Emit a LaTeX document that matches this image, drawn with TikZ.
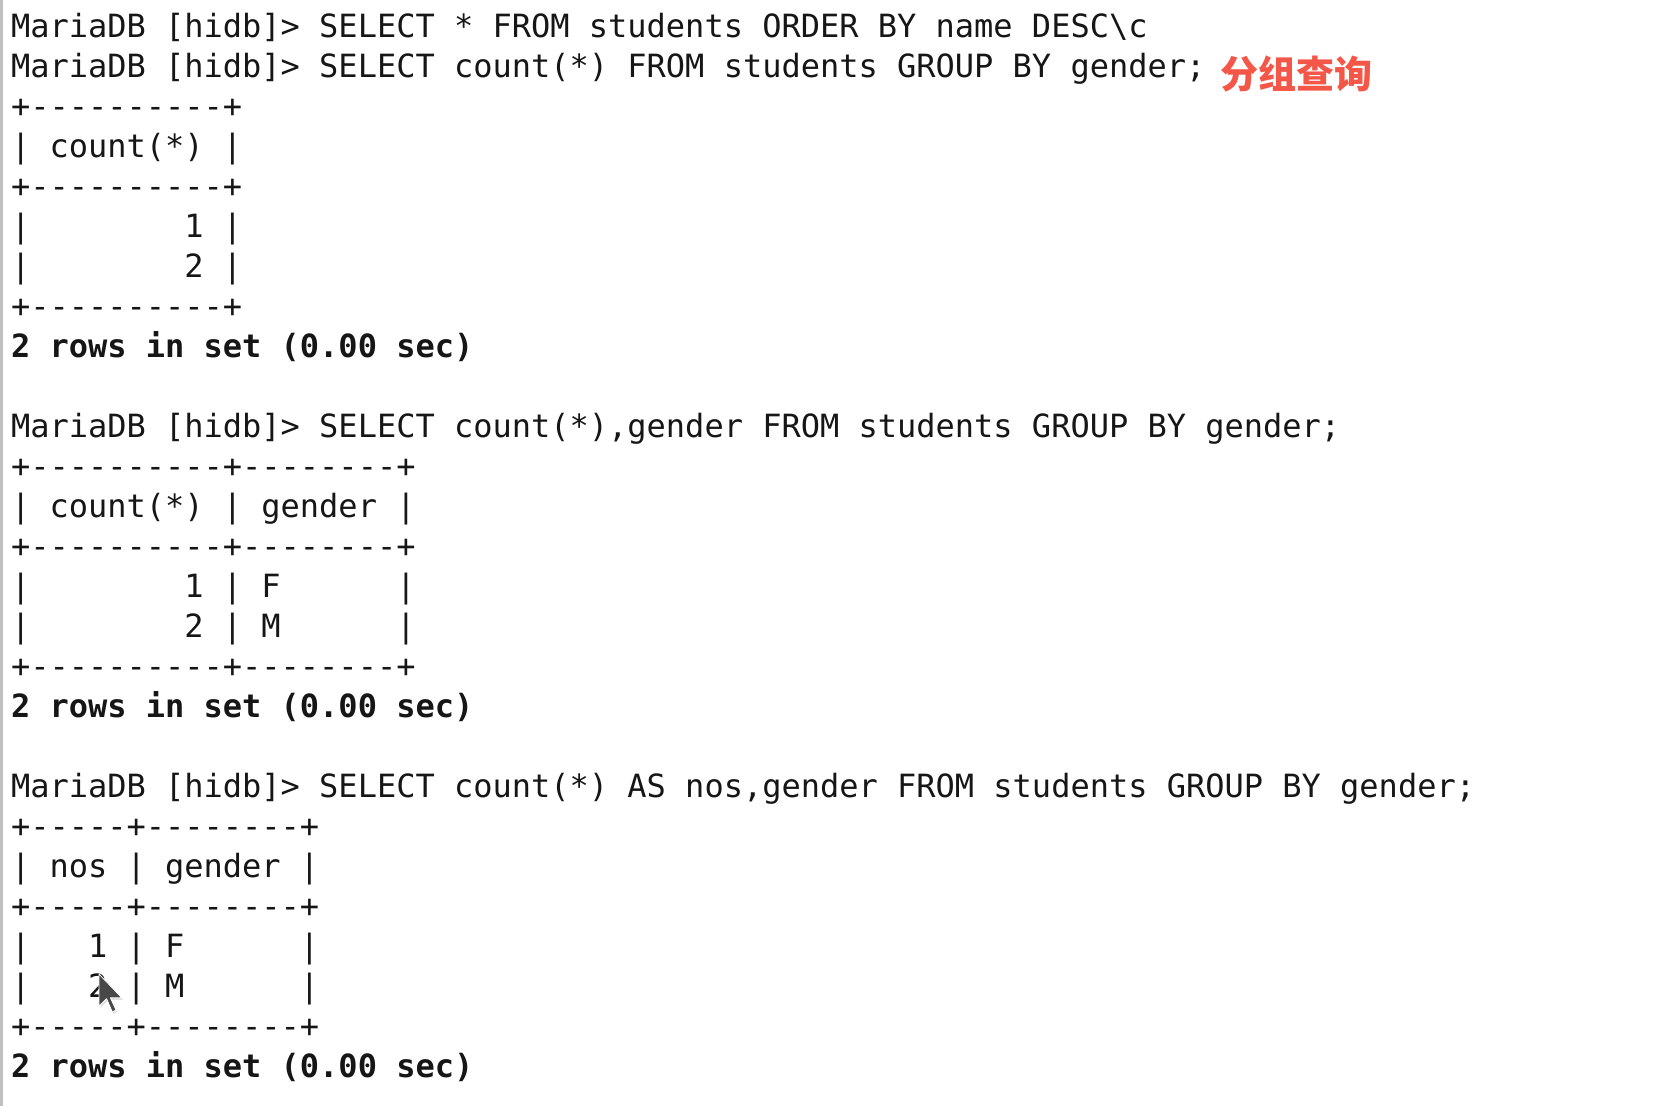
\documentclass[tikz,border=0pt]{standalone}
\usepackage{fontspec}
\setmonofont{DejaVu Sans Mono}
\newfontfamily\cjk{Noto Sans CJK SC}
\definecolor{termtext}{RGB}{22,22,22}
\definecolor{redlabel}{RGB}{244,86,72}
\definecolor{edgegray}{RGB}{192,192,192}
\definecolor{cursorgray}{RGB}{72,72,72}
\begin{document}
\begin{tikzpicture}[x=1pt,y=-1pt,
  termline/.style={anchor=base west, inner sep=0pt, outer sep=0pt,
    font=\ttfamily\fontsize{32}{40}\selectfont, text=termtext},
  boldline/.style={termline, font=\ttfamily\bfseries\fontsize{32}{40}\selectfont},
  note/.style={anchor=base west, inner sep=0pt, outer sep=0pt,
    font=\cjk\bfseries\fontsize{38}{44}\selectfont, text=redlabel}]
\useasboundingbox (0,0) rectangle (1654,1106);
\fill[white] (0,0) rectangle (1654,1106);
\fill[edgegray] (0,0) rectangle (3,1106);

\node[termline] (l0) at (11,37.3) {MariaDB [hidb]> SELECT * FROM students ORDER BY name DESC\textbackslash c};
\node[termline] (l1) at (11,77.3) {MariaDB [hidb]> SELECT count(*) FROM students GROUP BY gender;};
\node[note] (label) at (1220,88) {分组查询};
\node[termline] (l2) at (11,117.3) {+----------+};
\node[termline] (l3) at (11,157.3) {| count(*) |};
\node[termline] (l4) at (11,197.3) {+----------+};
\node[termline] (l5) at (11,237.3) {|\ \ \ \ \ \ \ \ 1 |};
\node[termline] (l6) at (11,277.3) {|\ \ \ \ \ \ \ \ 2 |};
\node[termline] (l7) at (11,317.3) {+----------+};
\node[boldline] (l8) at (11,357.3) {2 rows in set (0.00 sec)};

\node[termline] (l10) at (11,437.3) {MariaDB [hidb]> SELECT count(*),gender FROM students GROUP BY gender;};
\node[termline] (l11) at (11,477.3) {+----------+--------+};
\node[termline] (l12) at (11,517.3) {| count(*) | gender |};
\node[termline] (l13) at (11,557.3) {+----------+--------+};
\node[termline] (l14) at (11,597.3) {|\ \ \ \ \ \ \ \ 1 | F\ \ \ \ \ \ |};
\node[termline] (l15) at (11,637.3) {|\ \ \ \ \ \ \ \ 2 | M\ \ \ \ \ \ |};
\node[termline] (l16) at (11,677.3) {+----------+--------+};
\node[boldline] (l17) at (11,717.3) {2 rows in set (0.00 sec)};

\node[termline] (l19) at (11,797.3) {MariaDB [hidb]> SELECT count(*) AS nos,gender FROM students GROUP BY gender;};
\node[termline] (l20) at (11,837.3) {+-----+--------+};
\node[termline] (l21) at (11,877.3) {| nos | gender |};
\node[termline] (l22) at (11,917.3) {+-----+--------+};
\node[termline] (l23) at (11,957.3) {|\ \ \ 1 | F\ \ \ \ \ \ |};
\node[termline] (l24) at (11,997.3) {|\ \ \ 2 | M\ \ \ \ \ \ |};
\node[termline] (l25) at (11,1037.3) {+-----+--------+};
\node[boldline] (l26) at (11,1077.3) {2 rows in set (0.00 sec)};

% mouse pointer
\fill[black!12] (100.5,976) -- (100.5,1008) -- (107.6,1000.7) -- (113.3,1014) -- (117,1012) -- (111.4,999.8) -- (122.8,999.8) -- cycle;
\filldraw[fill=cursorgray, draw=white, line width=0.8pt, line join=round]
  (99,974) -- (99,1006) -- (106.6,998.7) -- (112.3,1012) -- (116,1010) -- (110.4,997.8) -- (121.8,997.8) -- cycle;
\end{tikzpicture}
\end{document}
